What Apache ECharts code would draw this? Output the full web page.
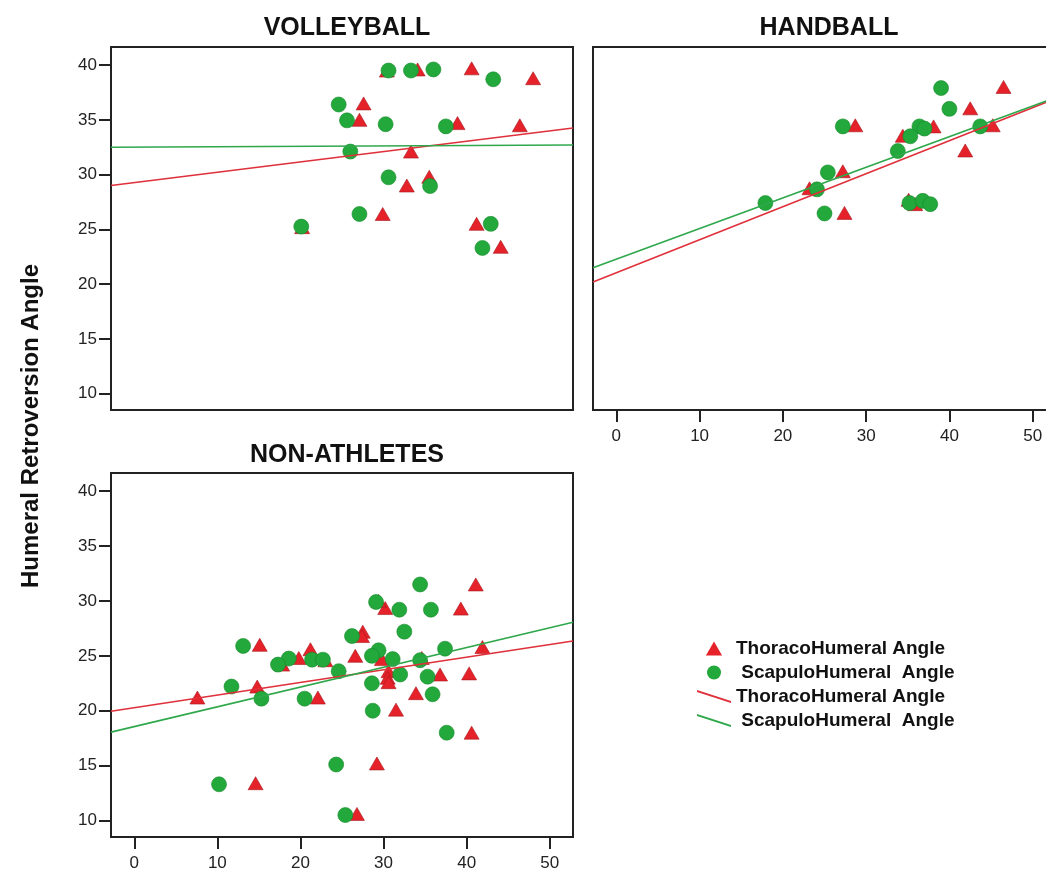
<!DOCTYPE html>
<html>
<head>
<meta charset="utf-8">
<script src="https://cdn.jsdelivr.net/npm/echarts@6/dist/echarts.min.js"></script>
<style>
html,body{margin:0;padding:0;background:#fff;}
#chart{width:1046px;height:872px;}
</style>
</head>
<body>
<div id="chart"></div>
<script>
// ---------- data ----------
const panelTitles = ['VOLLEYBALL', 'HANDBALL', 'NON-ATHLETES'];
const xTicks = [0, 10, 20, 30, 40, 50];
const yTicks = [10, 15, 20, 25, 30, 35, 40];
const yAxisTitle = 'Humeral Retroversion Angle';
const legendLabels = ['ThoracoHumeral Angle', ' ScapuloHumeral  Angle', 'ThoracoHumeral Angle', ' ScapuloHumeral  Angle'];

const volleyballThoraco = [
  [34.1, 39.6], [40.6, 39.7], [48.0, 38.8], [27.6, 36.5], [27.1, 35.0], [38.9, 34.7],
  [46.4, 34.5], [33.3, 32.1], [35.5, 29.8], [32.8, 29.0], [29.9, 26.4], [20.2, 25.2],
  [41.2, 25.5], [44.1, 23.4], [30.4, 39.5]
];
const volleyballScapulo = [
  [30.6, 39.5], [33.3, 39.5], [36.0, 39.6], [43.2, 38.7], [24.6, 36.4], [25.6, 34.95],
  [30.25, 34.6], [37.5, 34.4], [26.0, 32.1], [30.6, 29.75], [35.6, 28.95], [27.1, 26.4],
  [20.1, 25.25], [42.9, 25.5], [41.9, 23.3]
];
const volleyballThoracoFit = [[-2.8, 29.0], [52.8, 34.25]];
const volleyballScapuloFit = [[-2.8, 32.5], [52.8, 32.7]];

const handballThoraco = [
  [46.5, 38.0], [42.5, 36.05], [28.7, 34.5], [38.1, 34.4], [34.4, 33.55], [45.2, 34.5],
  [41.9, 32.2], [27.2, 30.3], [23.2, 28.75], [35.1, 27.7], [35.9, 27.3], [27.4, 26.5]
];
const handballScapulo = [
  [39.0, 37.9], [40.0, 36.0], [27.2, 34.4], [36.4, 34.4], [37.0, 34.2], [43.7, 34.4],
  [35.3, 33.5], [33.8, 32.15], [25.4, 30.2], [24.1, 28.65], [17.9, 27.4], [35.2, 27.4],
  [36.8, 27.6], [37.7, 27.3], [25.0, 26.45]
];
const handballThoracoFit = [[-2.8, 20.2], [52.8, 36.95]];
const handballScapuloFit = [[-2.8, 21.5], [52.8, 37.05]];

const nonAthletesThoraco = [
  [41.1, 31.5], [30.2, 29.35], [39.3, 29.3], [29.4, 30.0], [27.5, 27.2], [27.4, 26.8],
  [15.1, 26.0], [21.2, 25.6], [41.9, 25.8], [26.6, 25.0], [19.8, 24.8], [29.8, 24.7],
  [23.0, 24.6], [17.8, 24.2], [30.6, 23.6], [30.5, 23.0], [30.6, 22.6], [36.8, 23.3],
  [40.3, 23.4], [14.8, 22.2], [33.9, 21.6], [22.1, 21.2], [7.6, 21.2], [31.5, 20.1],
  [40.6, 18.0], [29.2, 15.2], [14.6, 13.4], [26.8, 10.6], [34.6, 24.8]
];
const nonAthletesScapulo = [
  [34.4, 31.5], [29.1, 29.9], [31.9, 29.2], [35.7, 29.2], [32.5, 27.2], [26.2, 26.8],
  [13.1, 25.9], [37.4, 25.65], [29.4, 25.5], [28.6, 25.0], [18.6, 24.75], [21.4, 24.65],
  [22.7, 24.65], [31.1, 24.7], [17.3, 24.2], [34.4, 24.6], [24.6, 23.6], [35.3, 23.1],
  [32.0, 23.3], [11.7, 22.2], [28.6, 22.5], [35.9, 21.5], [15.3, 21.1], [20.5, 21.1],
  [28.7, 20.0], [37.6, 18.0], [24.3, 15.1], [10.2, 13.3], [25.4, 10.5]
];
const nonAthletesThoracoFit = [[-2.8, 19.95], [52.8, 26.35]];
const nonAthletesScapuloFit = [[-2.8, 18.05], [52.8, 28.05]];

// ---------- styles ----------
const RED = '#e5222a';
const GREEN = '#22a83b';
const AXIS = '#222';
const X_MIN = -2.8, X_MAX = 52.8, Y_MIN = 8.5, Y_MAX = 41.65;
const TRI_PATH = 'path://M5,0 L10,8.66 L0,8.66 Z';

const grids = [
  {left: 111, top: 47, width: 462, height: 363},
  {left: 593, top: 47, width: 463, height: 363},
  {left: 111, top: 473, width: 462, height: 364}
];
const showX = [false, true, true];
const showY = [true, false, true];

const xAxes = grids.map((g, i) => ({
  type: 'value', gridIndex: i, min: X_MIN, max: X_MAX,
  splitLine: {show: false},
  axisLine: {show: true, onZero: false, lineStyle: {color: AXIS, width: 2}},
  axisTick: {show: showX[i], customValues: xTicks, length: 12, lineStyle: {color: AXIS, width: 2}},
  axisLabel: {show: showX[i], customValues: xTicks, margin: 18, color: '#222',
              fontFamily: 'Liberation Sans, Arial, sans-serif', fontSize: 17}
}));
const yAxes = grids.map((g, i) => ({
  type: 'value', gridIndex: i, min: Y_MIN, max: Y_MAX,
  splitLine: {show: false},
  axisLine: {show: true, onZero: false, lineStyle: {color: AXIS, width: 2}},
  axisTick: {show: showY[i], customValues: yTicks, length: 12, lineStyle: {color: AXIS, width: 2}},
  axisLabel: {show: showY[i], customValues: yTicks, margin: 14, color: '#222',
              fontFamily: 'Liberation Sans, Arial, sans-serif', fontSize: 17}
}));

const panelData = [
  [volleyballThoraco, volleyballScapulo, volleyballThoracoFit, volleyballScapuloFit],
  [handballThoraco, handballScapulo, handballThoracoFit, handballScapuloFit],
  [nonAthletesThoraco, nonAthletesScapulo, nonAthletesThoracoFit, nonAthletesScapuloFit]
];

const series = [];
panelData.forEach((d, i) => {
  series.push({
    name: 'thPts', type: 'scatter', xAxisIndex: i, yAxisIndex: i, data: d[0],
    symbol: TRI_PATH, symbolSize: [15, 13], z: 2,
    itemStyle: {color: RED, borderColor: '#a8161c', borderWidth: 0.6, opacity: 1}
  });
  series.push({
    name: 'shPts', type: 'scatter', xAxisIndex: i, yAxisIndex: i, data: d[1],
    symbol: 'circle', symbolSize: 15, z: 3,
    itemStyle: {color: GREEN, borderColor: '#178a2c', borderWidth: 0.6, opacity: 1}
  });
  series.push({
    name: 'thFit', type: 'line', xAxisIndex: i, yAxisIndex: i, data: d[2],
    showSymbol: false, symbol: 'none', z: 4,
    lineStyle: {color: '#e0303a', width: 1.6}, itemStyle: {color: '#e0303a'}
  });
  series.push({
    name: 'shFit', type: 'line', xAxisIndex: i, yAxisIndex: i, data: d[3],
    showSymbol: false, symbol: 'none', z: 5,
    lineStyle: {color: '#2fa84c', width: 1.6}, itemStyle: {color: '#2fa84c'}
  });
});

const legendNames = ['thPts', 'shPts', 'thFit', 'shFit'];
const legendIcons = [TRI_PATH, 'circle', 'path://M0,0 L34,11 L34,13 L0,2 Z', 'path://M0,0 L34,11 L34,13 L0,2 Z'];
const legendColors = [RED, GREEN, '#e0303a', '#2fa84c'];

const titleFont = {fontFamily: 'Liberation Sans, Arial, sans-serif', fontWeight: 'bold', fontSize: 25, color: '#111'};

const option = {
  backgroundColor: '#fff',
  animation: false,
  title: [
    {text: panelTitles[0], left: 342, top: 11, textAlign: 'center', textStyle: titleFont},
    {text: panelTitles[1], left: 824, top: 11, textAlign: 'center', textStyle: titleFont},
    {text: panelTitles[2], left: 342, top: 438, textAlign: 'center', textStyle: titleFont}
  ],
  grid: grids.map(g => Object.assign({show: true, borderColor: AXIS, borderWidth: 2, backgroundColor: 'transparent',
                                      containLabel: false, outerBoundsMode: 'none'}, g)),
  xAxis: xAxes,
  yAxis: yAxes,
  legend: {
    orient: 'vertical', left: 692, top: 634,
    itemWidth: 34, itemHeight: 14, itemGap: 5,
    selectedMode: false,
    data: legendNames.map((n, k) => ({name: n, icon: legendIcons[k], itemStyle: {color: legendColors[k], borderWidth: 0}})),
    formatter: function (name) { return legendLabels[legendNames.indexOf(name)]; },
    textStyle: {fontFamily: 'Liberation Sans, Arial, sans-serif', fontWeight: 'bold', fontSize: 19, color: '#111', lineHeight: 18}
  },
  graphic: [{
    type: 'text', x: 31, y: 426, rotation: Math.PI / 2,
    style: {text: yAxisTitle, fill: '#111', align: 'center', verticalAlign: 'middle',
            font: 'bold 24px "Liberation Sans", Arial, sans-serif'}
  }],
  series: series
};

const chart = echarts.init(document.getElementById('chart'), null, {renderer: 'canvas'});
chart.setOption(option);
</script>
</body>
</html>
